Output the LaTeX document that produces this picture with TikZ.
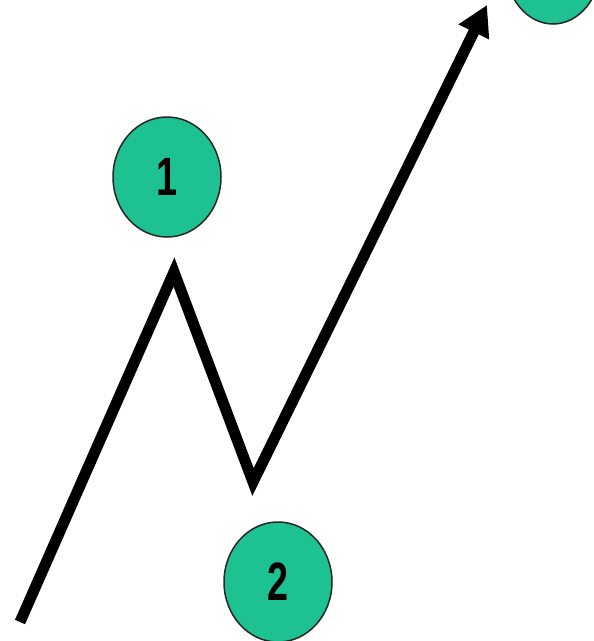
\documentclass[tikz,border=0pt]{standalone}
\usepackage{fontspec}
\setmainfont{Liberation Sans}
\usetikzlibrary{shapes.geometric,arrows.meta}
\definecolor{wavegreen}{HTML}{1EC192}
\begin{document}
\begin{tikzpicture}[x=1pt,y=-1pt,
  badge/.style={ellipse,draw=black!85,line width=1.5pt,fill=wavegreen,
    minimum width=108pt,minimum height=120pt,inner sep=0pt,
    font=\fontsize{54}{54}\selectfont\bfseries},
  wave/.style={line width=11pt,line join=miter,line cap=butt}]
\useasboundingbox (0,0) rectangle (594,641);
\begin{scope}
\clip (0,0) rectangle (594,641);
\node[badge] (b1) at (167,177) {\scalebox{0.7}[1]{1}};
\node[badge] (b2) at (278,582) {\scalebox{0.7}[1]{2}};
\node[badge,minimum width=96pt] (b3) at (553,-36) {};
\end{scope}
\coordinate (p0) at (20,622);
\coordinate (p1) at (174,272);
\coordinate (p2) at (253,482);
\coordinate (p3) at (487,5);
\draw[wave,-{Triangle[length=30pt,width=32pt]}] (p0) -- (p1) -- (p2) -- (p3);
\end{tikzpicture}
\end{document}
